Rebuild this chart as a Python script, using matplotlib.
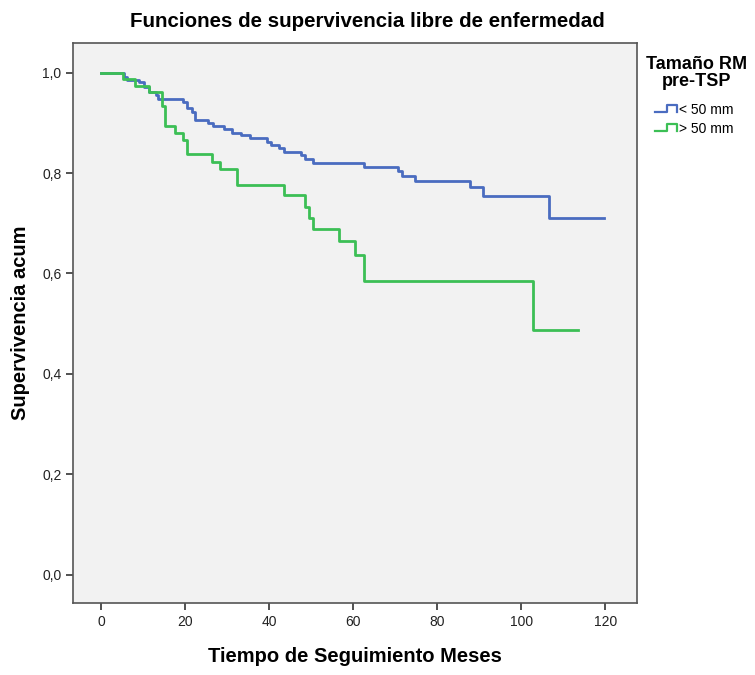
import matplotlib
matplotlib.use("Agg")
import matplotlib.pyplot as plt
from matplotlib.legend_handler import HandlerBase
from matplotlib.lines import Line2D
from matplotlib.ticker import FuncFormatter

plt.rcParams['font.family'] = ['Liberation Sans', 'DejaVu Sans']

# Kaplan-Meier steps: time of each drop (months) and survival after it
t_small = [0, 5.3, 6.1, 8.9, 10.1, 11.3, 12.9, 13.6, 19.4, 20.4, 21.6, 22.4,
           25.5, 26.7, 29.1, 31.1, 33.3, 35.5, 39.4, 40.5, 42.2, 43.4, 47.6,
           48.6, 50.5, 62.5, 70.6, 71.6, 74.6, 87.7, 90.8, 106.7, 119.6]
s_small = [1.0, 0.992, 0.986, 0.981, 0.971, 0.961, 0.955, 0.948, 0.941, 0.929,
           0.921, 0.905, 0.900, 0.893, 0.887, 0.880, 0.875, 0.869, 0.862, 0.856,
           0.849, 0.842, 0.836, 0.827, 0.821, 0.813, 0.804, 0.795, 0.785, 0.772,
           0.754, 0.710, 0.710]

t_large = [0, 5.2, 8.1, 11.3, 14.4, 15.2, 17.5, 19.4, 20.4, 26.4, 28.3, 32.3,
           43.4, 48.4, 49.4, 50.4, 56.5, 60.5, 62.6, 102.7, 113.6]
s_large = [1.0, 0.988, 0.974, 0.961, 0.934, 0.894, 0.880, 0.865, 0.837, 0.823,
           0.808, 0.776, 0.756, 0.733, 0.710, 0.688, 0.664, 0.637, 0.584, 0.487,
           0.487]

groups = ['< 50 mm', '> 50 mm']
colors = ['#4a6cc0', '#3cbf55']
x_ticks = [0, 20, 40, 60, 80, 100, 120]
y_ticks = [0.0, 0.2, 0.4, 0.6, 0.8, 1.0]


class StepHandler(HandlerBase):
    # legend key drawn as a small step, like the survival curves
    def create_artists(self, legend, orig_handle, xdescent, ydescent,
                       width, height, fontsize, trans):
        w, h = width, height
        xs = [0, 0.55 * w, 0.55 * w, w, w]
        ys = [0.15 * h, 0.15 * h, 0.85 * h, 0.85 * h, 0.15 * h]
        line = Line2D([x - xdescent for x in xs], [y - ydescent for y in ys],
                      color=orig_handle.get_color(), lw=1.6)
        line.set_transform(trans)
        return [line]


fig = plt.figure(figsize=(7.55, 6.75), dpi=100)
ax = fig.add_axes([0.097, 0.107, 0.747, 0.830])
ax.set_facecolor('#f2f2f2')

lines = []
for t, s, c, g in [(t_small, s_small, colors[0], groups[0]),
                   (t_large, s_large, colors[1], groups[1])]:
    ln, = ax.step(t, s, where='post', color=c, lw=2.0, label=g)
    lines.append(ln)

ax.set_xlim(-6.7, 127.6)
ax.set_ylim(-0.056, 1.06)
ax.set_xticks(x_ticks)
ax.set_yticks(y_ticks)
ax.yaxis.set_major_formatter(FuncFormatter(lambda v, p: f'{v:.1f}'.replace('.', ',')))
ax.tick_params(axis='both', direction='out', length=5, width=1.2,
               color='#333333', labelsize=10, labelcolor='#222222')
for sp in ax.spines.values():
    sp.set_color('#555555')
    sp.set_linewidth(1.2)

ax.set_xlabel('Tiempo de Seguimiento Meses', fontsize=14.5, fontweight='bold', labelpad=13)
ax.set_ylabel('Supervivencia acum', fontsize=14.5, fontweight='bold', labelpad=9)
ax.set_title('Funciones de supervivencia libre de enfermedad', fontsize=14.8,
             fontweight='bold', pad=11, x=0.521)

# legend title drawn on its own so the gap to the entries can be set freely
fig.text(697 / 755, 1 - 73 / 675, 'Tamaño RM\npre-TSP', ha='center', va='center',
         fontsize=13, fontweight='bold', linespacing=1.05)
fig.legend(lines, groups, loc='upper left', bbox_to_anchor=(0.8675, 0.848),
           frameon=False, fontsize=10, borderpad=0, borderaxespad=0,
           handlelength=1.6, handletextpad=0.1, labelspacing=0.37,
           handler_map={Line2D: StepHandler()})

fig.savefig('out.png', dpi=100)
